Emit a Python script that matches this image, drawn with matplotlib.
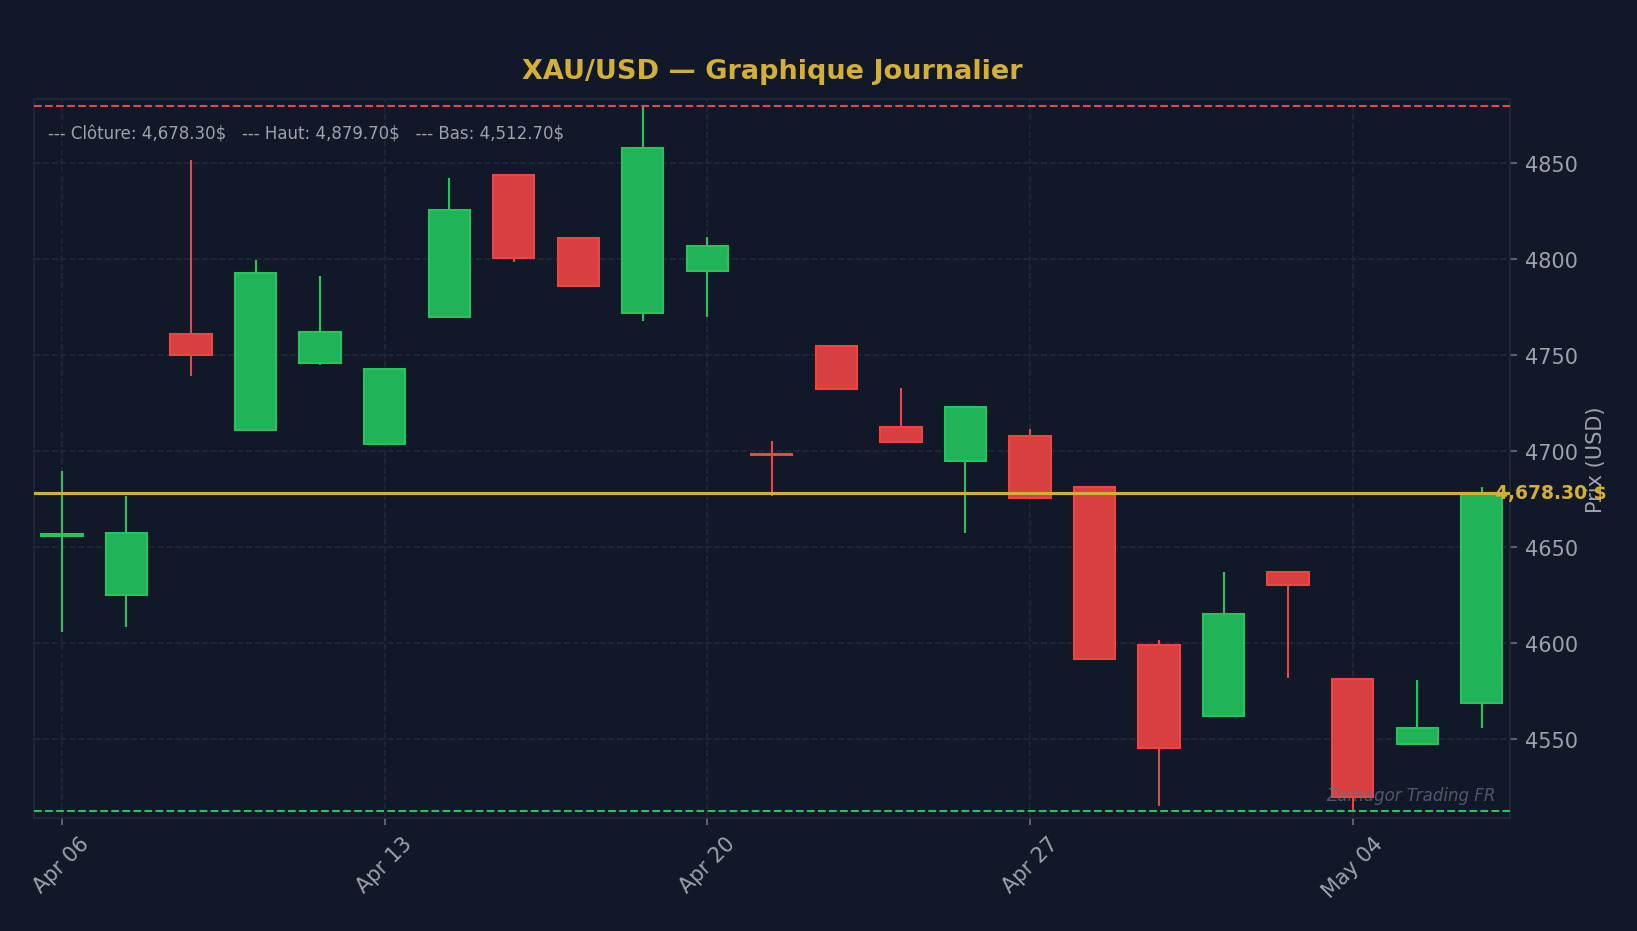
import matplotlib
matplotlib.use("Agg")
import matplotlib.pyplot as plt
from matplotlib.patches import Rectangle

# ---- data ----
dates = ["Apr 06", "Apr 07", "Apr 08", "Apr 09", "Apr 10",
         "Apr 13", "Apr 14", "Apr 15", "Apr 16", "Apr 17",
         "Apr 20", "Apr 21", "Apr 22", "Apr 23", "Apr 24",
         "Apr 27", "Apr 28", "Apr 29", "Apr 30", "May 01",
         "May 04", "May 05", "May 06"]
opens = [4656.0, 4625.0, 4761.0, 4711.0, 4746.0, 4704.0, 4770.0, 4844.0, 4811.0, 4772.0,
         4794.0, 4698.5, 4755.0, 4712.5, 4695.0, 4708.0, 4681.5, 4599.0, 4562.0, 4637.0,
         4581.5, 4547.5, 4569.0]
closes = [4657.0, 4657.5, 4750.0, 4793.0, 4762.0, 4743.0, 4825.5, 4800.5, 4786.0, 4858.0,
          4807.0, 4698.0, 4732.5, 4705.0, 4723.0, 4675.5, 4592.0, 4545.5, 4615.0, 4630.5,
          4520.0, 4556.0, 4678.3]
highs = [4689.5, 4676.5, 4851.5, 4799.5, 4791.0, 4743.5, 4842.5, 4844.5, 4811.5, 4879.7,
         4811.5, 4705.5, 4755.0, 4733.0, 4723.0, 4711.5, 4681.5, 4601.5, 4637.0, 4637.0,
         4581.5, 4581.0, 4681.5]
lows = [4606.0, 4608.5, 4739.0, 4711.0, 4745.0, 4703.5, 4770.0, 4798.5, 4785.5, 4768.0,
        4770.0, 4676.5, 4732.5, 4704.5, 4657.5, 4675.0, 4591.5, 4515.5, 4561.5, 4582.0,
        4512.7, 4547.0, 4556.0]
tick_idx = [0, 5, 10, 15, 20]

BG = "#111827"
GRID = "#1f2937"
TXT = "#9ca3af"
GOLD = "#d4af37"
UP = "#22c55e"
DN = "#ef4444"

fig = plt.figure(figsize=(1637 / 150, 932 / 150), dpi=150, facecolor=BG)
ax = fig.add_axes([0.0205, 0.1212, 0.9225 - 0.0205, 0.8927 - 0.1212])
ax.set_facecolor(BG)

n = len(opens)
w = 0.64
for i in range(n):
    o, c, h, l = opens[i], closes[i], highs[i], lows[i]
    col = UP if c >= o else DN
    top = max(o, c)
    bottom = min(o, c)
    if h > top:
        ax.plot([i, i], [top, h], color=col, lw=1.0, zorder=2, solid_capstyle="butt")
    if l < bottom:
        ax.plot([i, i], [l, bottom], color=col, lw=1.0, zorder=2, solid_capstyle="butt")
    height = max(top - bottom, 0.3)
    ax.add_patch(Rectangle((i - w / 2, bottom), w, height, facecolor=col, alpha=0.9,
                           edgecolor="none", zorder=3))
    ax.add_patch(Rectangle((i - w / 2, bottom), w, height, facecolor="none",
                           edgecolor=col, lw=1.0, zorder=3))

last_close = closes[-1]
hi = max(highs)
lo = min(lows)
rng = hi - lo
ax.axhline(hi, color=DN, lw=1.0, ls="--", zorder=4)
ax.axhline(lo, color=UP, lw=1.0, ls="--", zorder=4)
ax.axhline(last_close, color=GOLD, lw=1.5, zorder=4)

ax.set_xlim(-0.44, n - 1 + 0.44)
ax.set_ylim(lo - 0.01 * rng, hi + 0.01 * rng)

ax.set_xticks(tick_idx)
ax.set_xticklabels([dates[i] for i in tick_idx], rotation=45)
ax.set_yticks([4550, 4600, 4650, 4700, 4750, 4800, 4850])
ax.yaxis.tick_right()
ax.yaxis.set_label_position("right")
ax.tick_params(colors=TXT, labelsize=10)
ax.tick_params(axis="both", color="#6b7280")
ax.set_ylabel("Prix (USD)", color=TXT, fontsize=10)

ax.grid(True, color=GRID, ls="--", lw=0.8, alpha=1.0)
ax.set_axisbelow(True)
for s in ax.spines.values():
    s.set_color(GRID)

ax.set_title("XAU/USD \u2014 Graphique Journalier", color=GOLD, fontsize=13,
             fontweight="bold", pad=10)

ax.text(0.01, 0.965,
        f"--- Cl\u00f4ture: {last_close:,.2f}$   --- Haut: {hi:,.2f}$   --- Bas: {lo:,.2f}$",
        transform=ax.transAxes, color=TXT, fontsize=8, va="top", ha="left")

ax.text(0.99, last_close, f"{last_close:,.2f} $", color=GOLD, fontsize=9,
        fontweight="bold", va="center", ha="left",
        transform=ax.get_yaxis_transform(), zorder=6)

ax.text(0.99, 0.02, "Zamagor Trading FR", transform=ax.transAxes, color="#6b7280",
        fontsize=8, style="italic", ha="right", va="bottom", alpha=0.7, zorder=6)

fig.savefig("out.png", dpi=150, facecolor=BG)
